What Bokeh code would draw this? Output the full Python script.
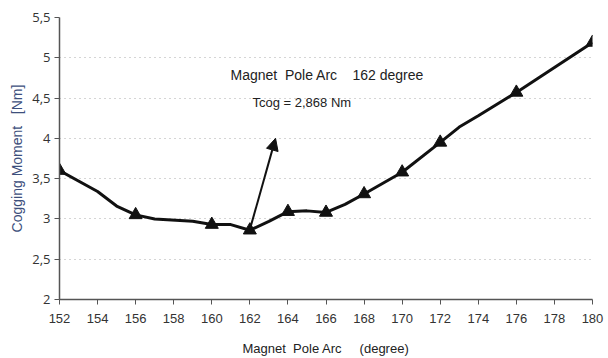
from bokeh.plotting import figure
from bokeh.models import Range1d, FixedTicker, Arrow, NormalHead, Label
from bokeh.embed import file_html
from bokeh.resources import INLINE

# Data
line_x = [152, 154, 155, 156, 157, 159, 160, 161, 162, 163, 164, 165, 166, 167, 168, 170, 172, 173, 174, 176, 178, 180]
line_y = [3.60, 3.34, 3.16, 3.05, 3.00, 2.97, 2.93, 2.93, 2.86, 2.97, 3.09, 3.10, 3.08, 3.18, 3.31, 3.58, 3.95, 4.14, 4.28, 4.57, 4.88, 5.19]
marker_x = [152, 156, 160, 162, 164, 166, 168, 170, 172, 176, 180]
marker_y = [3.60, 3.05, 2.93, 2.86, 3.09, 3.08, 3.31, 3.58, 3.95, 4.57, 5.19]
x_ticks = list(range(152, 181, 2))
y_ticks = [2, 2.5, 3, 3.5, 4, 4.5, 5, 5.5]
y_tick_labels = ["2", "2,5", "3", "3,5", "4", "4,5", "5", "5,5"]
arrow_start = (162, 2.868)
arrow_end = (163.35, 4.0)
title_1 = "Magnet\u00a0\u00a0Pole Arc"
title_2 = "162 degree"
title_3 = "Tcog = 2,868 Nm"
x_label = "Magnet\u00a0\u00a0Pole Arc\u00a0\u00a0\u00a0\u00a0\u00a0(degree)"
y_label = "Cogging Moment\u00a0\u00a0\u00a0[Nm]"

# frame geometry
L, R, T, B = 59, 16, 17, 59
W, H = 608, 358
FB = H - B  # frame bottom in page pixels

p = figure(width=W, height=H, output_backend="svg", toolbar_location=None,
           x_range=Range1d(152, 180), y_range=Range1d(2, 5.5),
           min_border_left=L, min_border_right=R, min_border_top=T, min_border_bottom=B)
p.outline_line_color = None
p.background_fill_color = "white"

sans = "Liberation Sans"

p.xaxis.ticker = FixedTicker(ticks=x_ticks)
p.yaxis.ticker = FixedTicker(ticks=y_ticks)
p.yaxis.major_label_overrides = {t: l for t, l in zip(y_ticks, y_tick_labels)}
for ax in (p.xaxis, p.yaxis):
    ax.axis_line_color = "#555555"
    ax.axis_line_width = 1.5
    ax.major_tick_line_color = "#555555"
    ax.major_tick_out = 5
    ax.major_tick_in = 0
    ax.minor_tick_line_color = None
    ax.major_label_text_color = "#333333"
p.xaxis.major_label_text_font = sans
p.xaxis.major_label_text_font_size = "13px"
p.xaxis.major_label_standoff = 9
p.yaxis.major_label_text_font = "Open Sans"
p.yaxis.major_label_text_font_size = "13px"
p.yaxis.major_label_standoff = 4

p.xaxis.axis_label = x_label
p.xaxis.axis_label_text_font = sans
p.xaxis.axis_label_text_font_size = "13px"
p.xaxis.axis_label_text_font_style = "normal"
p.xaxis.axis_label_text_color = "#222222"
p.xaxis.axis_label_standoff = 15

p.yaxis.axis_label = y_label
p.yaxis.axis_label_text_font = sans
p.yaxis.axis_label_text_font_size = "14px"
p.yaxis.axis_label_text_font_style = "normal"
p.yaxis.axis_label_text_color = "#3d4f7c"
p.yaxis.axis_label_standoff = 4

p.xgrid.grid_line_color = None
p.ygrid.grid_line_color = "#aaaaaa"
p.ygrid.grid_line_dash = "1 4"
p.ygrid.grid_line_width = 1

p.line(line_x, line_y, line_color="#111111", line_width=3)
p.scatter(marker_x, marker_y, marker="triangle", size=13, fill_color="#111111", line_color="#111111")

p.add_layout(Arrow(end=NormalHead(size=12, fill_color="#111111", line_color="#111111"),
                   x_start=arrow_start[0], y_start=arrow_start[1],
                   x_end=arrow_end[0], y_end=arrow_end[1],
                   line_color="#111111", line_width=2))

def add_text(px, py, txt, size):
    p.add_layout(Label(x=px - L, y=FB - py, x_units="screen", y_units="screen", text=txt,
                       text_font=sans, text_font_size=size, text_color="#222222",
                       text_baseline="middle"))

add_text(230, 74, title_1, "14px")
add_text(352, 74, title_2, "14px")
add_text(252, 102, title_3, "13px")

open("out.html", "w").write(file_html(p, INLINE))
